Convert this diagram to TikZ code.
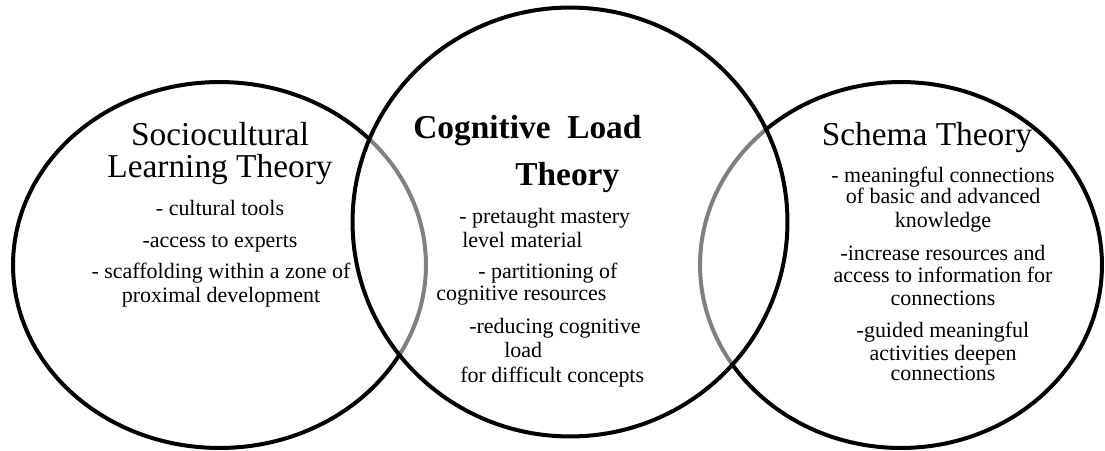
\documentclass[tikz,border=0pt]{standalone}
\usepackage{fontspec}
\setmainfont{Liberation Serif}
\usetikzlibrary{positioning}
\tikzset{
  venn/.style={line width=0.08cm,draw=black},
  title/.style={font=\fontsize{19}{22}\selectfont,anchor=base,inner sep=0pt},
  boldtitle/.style={font=\fontsize{19}{22}\selectfont\bfseries,anchor=base west,inner sep=0pt},
  item/.style={font=\fontsize{12.5}{15}\selectfont,anchor=base,inner sep=0pt},
  itemw/.style={item,anchor=base west},
}

\begin{document}
\begin{tikzpicture}[x=0.02cm,y=-0.02cm]
    \useasboundingbox (0,0) rectangle (1105,450);
    \coordinate (SC) at (219.5,265);
    \coordinate (CL) at (570,222);
    \coordinate (ST) at (901,265);

    % outer circles first, the middle one veils them
    \draw[venn] (SC) ellipse [x radius=4.13cm, y radius=3.66cm];
    \draw[venn] (ST) ellipse [x radius=4.02cm, y radius=3.66cm];
    \draw[venn,fill=white,fill opacity=0.5] (CL) ellipse [x radius=4.35cm, y radius=4.29cm];

    % sociocultural
    \node[title] (sc1) at (220,145) {Sociocultural};
    \node[title] (sc2) at (220,177) {Learning Theory};
    \node[item] (sca) at (220,215) {- cultural tools};
    \node[item] (scb) at (220,247) {-access to experts};
    \node[item] (scc) at (221,278) {- scaffolding within a zone of};
    \node[item] (scd) at (221,302) {proximal development};

    % cognitive load
    \node[boldtitle] (cl1) at (413,138) {Cognitive\ \ Load};
    \node[boldtitle] (cl2) at (515,185) {Theory};
    \node[itemw] (cla) at (459,223) {- pretaught mastery};
    \node[itemw] (clb) at (462,247) {level material};
    \node[itemw] (clc) at (478,278) {- partitioning of};
    \node[itemw] (cld) at (436,300) {cognitive resources};
    \node[itemw] (cle) at (469,333) {-reducing cognitive};
    \node[itemw] (clf) at (504,357) {load};
    \node[itemw] (clg) at (460,382) {for difficult concepts};

    % schema
    \node[title] (st1) at (927,145) {Schema Theory};
    \node[item] (sta) at (943,182) {- meaningful connections};
    \node[item] (stb) at (943,203) {of basic and advanced};
    \node[item] (stc) at (943,227) {knowledge};
    \node[item] (std) at (943,260) {-increase resources and};
    \node[item] (ste) at (943,282) {access to information for};
    \node[item] (stf) at (943,305) {connections};
    \node[item] (stg) at (943,337) {-guided meaningful};
    \node[item] (sth) at (943,360) {activities deepen};
    \node[item] (sti) at (943,380) {connections};
\end{tikzpicture}
\end{document}
